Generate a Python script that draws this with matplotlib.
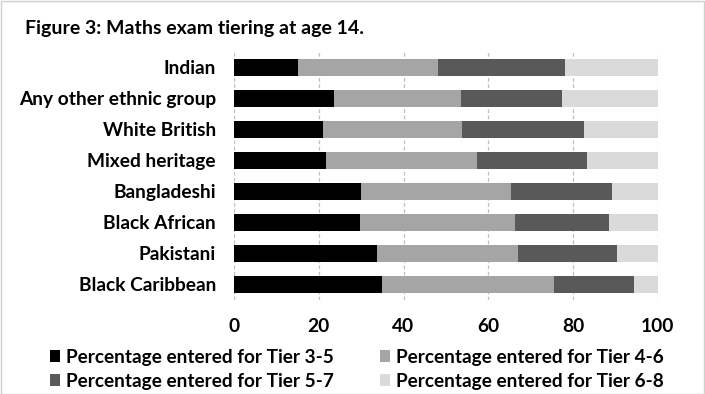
import matplotlib.pyplot as plt
import numpy as np

groups = ['Indian', 'Any other ethnic group', 'White British', 'Mixed heritage',
          'Bangladeshi', 'Black African', 'Pakistani', 'Black Caribbean']
tier_3_5 = [15.0, 23.5, 21.1, 21.6, 30.0, 29.8, 33.8, 35.0]
tier_4_6 = [33.2, 30.1, 32.7, 35.7, 35.3, 36.5, 33.2, 40.5]
tier_5_7 = [29.8, 23.7, 28.9, 25.9, 23.8, 22.1, 23.3, 19.0]
tier_6_8 = [22.0, 22.7, 17.3, 16.8, 10.9, 11.6, 9.7, 5.5]
series_names = ['Percentage entered for Tier 3-5', 'Percentage entered for Tier 4-6',
                'Percentage entered for Tier 5-7', 'Percentage entered for Tier 6-8']
colors = ['#000000', '#a5a5a5', '#595959', '#dadada']

plt.rcParams['font.family'] = ['Lato', 'DejaVu Sans']
plt.rcParams['font.weight'] = 'bold'

fig = plt.figure(figsize=(7.05, 3.94), dpi=100)
ax = fig.add_axes([0.332, 0.239, 0.601, 0.63])

y = np.arange(len(groups))
left = np.zeros(len(groups))
bars = []
for vals, name, c in zip([tier_3_5, tier_4_6, tier_5_7, tier_6_8], series_names, colors):
    b = ax.barh(y, vals, left=left, height=0.55, color=c, label=name, zorder=3)
    bars.append(b)
    left += np.array(vals)

ax.set_ylim(len(groups) - 0.5, -0.5)
ax.set_xlim(0, 100)
ax.set_xticks([0, 20, 40, 60, 80, 100])
ax.set_yticks(y)
ax.set_yticklabels(groups)
ax.tick_params(length=0, labelsize=13.8)
ax.tick_params(axis='y', pad=13)
ax.tick_params(axis='x', pad=13)
for s in ax.spines.values():
    s.set_visible(False)
ax.grid(axis='x', color='#bfbfbf', linestyle=(0, (3, 2)), linewidth=0.9, zorder=0)

fig.text(0.035, 0.928, 'Figure 3: Maths exam tiering at age 14.', fontsize=14,
         fontweight='bold', va='center')

# legend fills column-wise, so reorder to get 3-5, 4-6 on the first row
order = [0, 2, 1, 3]
fig.legend([bars[i] for i in order], [series_names[i] for i in order],
           ncol=2, loc='center left', bbox_to_anchor=(0.071, 0.063), frameon=False,
           fontsize=13.7, handlelength=0.52, handleheight=0.65, handletextpad=0.33,
           columnspacing=2.4, labelspacing=0.38, borderpad=0, borderaxespad=0)

fig.patches.append(plt.Rectangle((0.001, 0.001), 0.998, 0.997, transform=fig.transFigure,
                                 fill=False, edgecolor='#d0d0d0', linewidth=1))

fig.savefig('out.png', dpi=100)
